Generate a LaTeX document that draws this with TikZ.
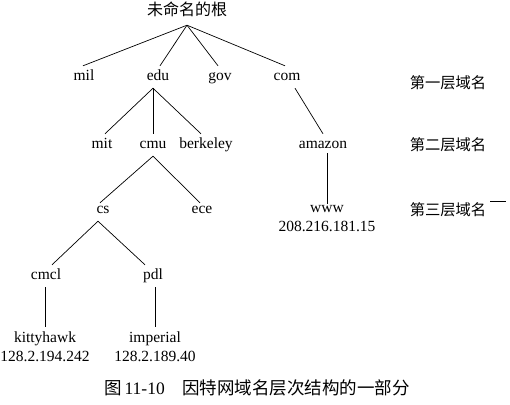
\documentclass[tikz,border=0pt]{standalone}
\usepackage{fontspec}
\setmainfont{Liberation Serif}
\newfontfamily\cjk{Noto Sans CJK SC}
\begin{document}
\begin{tikzpicture}[x=1pt,y=-1pt,
  lbl/.style={inner xsep=2pt, inner ysep=4pt, text height=10.5pt, text depth=3.5pt, font=\fontsize{15.5}{19}\selectfont},
  two/.style={inner xsep=2pt, inner ysep=4pt, align=center, font=\fontsize{15.5}{19}\selectfont},
  lvl/.style={inner sep=0pt, font=\cjk\fontsize{15.3}{18}\selectfont},
  br/.style={line width=0.7pt, black}]
\useasboundingbox (0,0) rectangle (510,404);
% root
\node[inner xsep=2pt, inner ysep=7pt, text height=12pt, text depth=2pt, font=\cjk\fontsize{16}{18}\selectfont] (root) at (187,11) {未命名的根};
% level 1
\node[lbl] (mil) at (84,77) {mil};
\node[lbl] (edu) at (158,77) {edu};
\node[lbl] (gov) at (220,77) {gov};
\node[lbl] (com) at (287,77) {com};
% level 2
\node[lbl] (mit) at (102,145) {mit};
\node[lbl] (cmu) at (153,145) {cmu};
\node[lbl] (berkeley) at (206,145) {berkeley};
\node[lbl] (amazon) at (323,145) {amazon};
% level 3
\node[lbl] (cs) at (103,210) {cs};
\node[lbl] (ece) at (202,210) {ece};
\node[two] (www) at (327,219) {www\\208.216.181.15};
% level 4
\node[lbl] (cmcl) at (46,276) {cmcl};
\node[lbl] (pdl) at (153,276) {pdl};
% hosts
\node[two] (kitty) at (45,346.5) {kittyhawk\\128.2.194.242};
\node[two] (imperial) at (155,346.5) {imperial\\128.2.189.40};
% level labels
\node[lvl] (l1) at (448,83) {第一层域名};
\node[lvl] (l2) at (448,145) {第二层域名};
\node[lvl] (l3) at (448,210) {第三层域名};
% caption
\node[inner sep=0pt, font=\fontsize{17.5}{20}\selectfont] (cap) at (257,388)
  {{\cjk 图}\,11-10\hspace{1em}{\cjk 因特网域名层次结构的一部分}};
% connectors
\draw[br] (root.south) -- ([xshift=-1pt]mil.north);
\draw[br] (root.south) -- ([xshift=2pt]edu.north);
\draw[br] (root.south) -- ([xshift=-2pt]gov.north);
\draw[br] (root.south) -- ([xshift=-2pt]com.north);
\draw[br] ([xshift=-5pt]edu.south) -- ([xshift=3pt]mit.north);
\draw[br] ([xshift=-5pt]edu.south) -- (cmu.north);
\draw[br] ([xshift=-5pt]edu.south) -- ([xshift=-5pt]berkeley.north);
\draw[br] ([xshift=8pt]com.south) -- (amazon.north);
\draw[br] (cmu.south) -- ([xshift=-3pt,yshift=-4pt]cs.north);
\draw[br] (cmu.south) -- ([xshift=-2pt,yshift=-4pt]ece.north);
\draw[br] ([xshift=4pt,yshift=3pt]amazon.south) -- ([yshift=-2pt]www.north);
\draw[br] ([xshift=-5pt]cs.south) -- ([xshift=6pt]cmcl.north);
\draw[br] ([xshift=-5pt]cs.south) -- ([xshift=-8pt]pdl.north);
\draw[br] ([xshift=-1pt]cmcl.south) -- (kitty.north);
\draw[br] ([xshift=2pt]pdl.south) -- (imperial.north);
\coordinate (dashstart) at ([xshift=4pt,yshift=1pt]l3.north east);
\draw[br] (dashstart) -- ++(16,0);
\end{tikzpicture}
\end{document}
